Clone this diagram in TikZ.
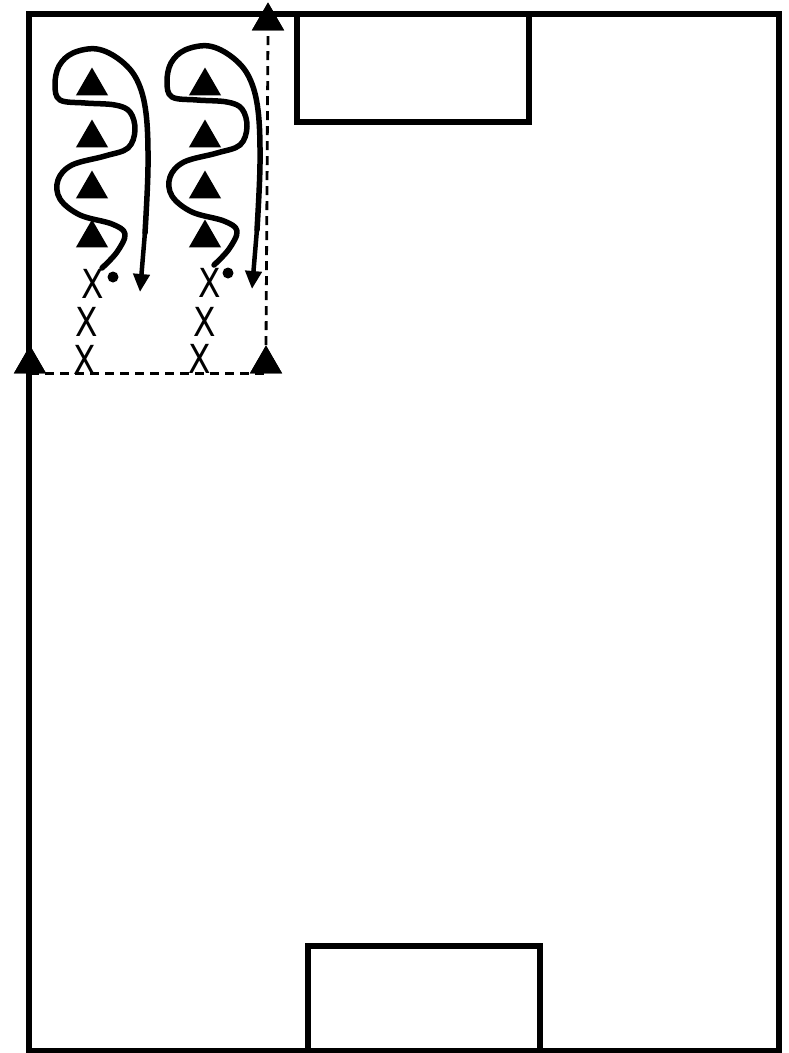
\documentclass[tikz,border=0pt]{standalone}
\usepackage{fontspec}
\setmainfont{DejaVu Sans}
\usetikzlibrary{shapes.geometric,arrows.meta}
\tikzset{
  field/.style={line width=5.5pt},
  cone/.style={regular polygon, regular polygon sides=3, fill=black, draw=none, minimum size=37pt, inner sep=0pt},
  player/.style={inner sep=0pt, text height=29pt, text depth=0pt, font=\fontsize{40}{40}\selectfont, xscale=0.82},
  ball/.style={circle, fill=black, inner sep=0pt, minimum size=11pt},
  dribble/.style={line width=5.5pt, line join=round, line cap=round},
  run/.style={line width=4.5pt, -{Triangle[length=18pt,width=16pt]}},
  runpath/.style={line width=2.8pt, dash pattern=on 9pt off 6pt},
}
\begin{document}
\begin{tikzpicture}[x=1pt,y=-1pt]
\useasboundingbox (0,0) rectangle (789,1053);
% field
\draw[field] (29,14) rectangle (779,1051);
\draw[field] (297,14) rectangle (529,122);
\draw[field] (308,1051) -- (308,946) -- (540,946) -- (540,1051);
% markers for the run
\node[cone] (L) at (30,364) {};
\node[cone] (R) at (266,364) {};
\node[cone] (T) at (268,21) {};
\draw[runpath] (L.south) -- (R.south);
\draw[runpath] (R.north) -- (T.south);
\node[cone] at (30,364) {};
\node[cone] at (266,364) {};
\node[cone] at (268,21) {};
% column 1
\foreach \y [count=\i] in {86,138,189,238} \node[cone] (a\i) at (92,\y) {};
\node[player] (p1) at (93,284) {X};
\node[player] (p2) at (87,322) {X};
\node[player] (p3) at (85,360) {X};
\node[ball] (b1) at (113,277) {};
\draw[dribble] plot[smooth, tension=0.6] coordinates {(102,268) (117,252) (125,234) (112,224) (80,215) (60,199) (58,180) (72,165) (105,156) (128,148) (135,130) (130,112) (115,105) (85,103) (60,100) (55,85) (59,66) (73,53) (97,49) (120,60) (137,80) (146,113) (148,167) (145,233)};
\draw[run] (145,232) -- (140,292);
% column 2
\foreach \y [count=\i] in {86,138,189,238} \node[cone] (c\i) at (205,\y) {};
\node[player] (q1) at (210,283) {X};
\node[player] (q2) at (205,322) {X};
\node[player] (q3) at (200,359) {X};
\node[ball] (b2) at (228,273) {};
\begin{scope}[shift={(112,-3)}]
\draw[dribble] plot[smooth, tension=0.6] coordinates {(102,268) (117,252) (125,234) (112,224) (80,215) (60,199) (58,180) (72,165) (105,156) (128,148) (135,130) (130,112) (115,105) (85,103) (60,100) (55,85) (59,66) (73,53) (97,49) (120,60) (137,80) (146,113) (148,167) (145,233)};
\draw[run] (145,232) -- (140,292);
\end{scope}
\end{tikzpicture}
\end{document}
